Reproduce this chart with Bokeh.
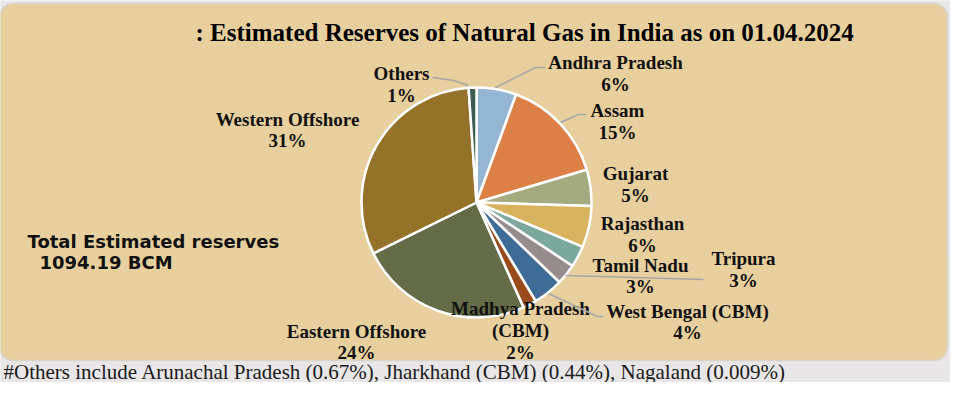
import math
from bokeh.plotting import figure
from bokeh.models import Range1d, ColumnDataSource
from bokeh.core.properties import value
from bokeh.embed import file_html
from bokeh.resources import INLINE

# ---------------- data ----------------
categories = ["Andhra Pradesh", "Assam", "Gujarat", "Rajasthan", "Tamil Nadu",
              "Tripura", "West Bengal (CBM)", "Madhya Pradesh (CBM)",
              "Eastern Offshore", "Western Offshore", "Others"]
shares = [5.6, 14.8, 5.1, 5.8, 3.0, 2.9, 4.2, 1.9, 24.4, 31.2, 1.1]
colors = ["#94b6d2", "#dd8047", "#a5ab81", "#d8b25c", "#7ba79d",
          "#968c8c", "#3f6c97", "#984a1c", "#636b47", "#94722a", "#3e5e55"]
title_text = ": Estimated Reserves of Natural Gas in India as on 01.04.2024"
total_lines = ["Total Estimated reserves", "1094.19 BCM"]
footnote = "#Others include Arunachal Pradesh (0.67%), Jharkhand (CBM) (0.44%), Nagaland (0.009%)"

# ---------------- layout ----------------
W, H = 950, 382
def px(x): return x
def py(y): return H - y

p = figure(width=W, height=H, output_backend="svg", toolbar_location=None,
           x_range=Range1d(0, W), y_range=Range1d(0, H), min_border=0)
p.axis.visible = False
p.grid.visible = False
p.outline_line_color = None
p.background_fill_color = "#e8e6e6"
p.border_fill_color = "#e8e6e6"

# tan panel
p.quad(left=[px(-1)], right=[px(947)], top=[py(3)], bottom=[py(360)],
       fill_color="#e8d09e", line_color="#d8d4cc", line_width=1.5,
       border_radius=14)

# pie
cx, cy, r = px(476), py(202), 115
total = sum(shares)
starts, ends = [], []
cum = 0.0
for s in shares:
    starts.append(math.pi / 2 - 2 * math.pi * cum / total)
    cum += s
    ends.append(math.pi / 2 - 2 * math.pi * cum / total)
src = ColumnDataSource(dict(cat=categories, start=starts, end=ends, color=colors))
p.wedge(x=cx, y=cy, radius=r, start_angle="start", end_angle="end",
        direction="clock", fill_color="color", line_color="white",
        line_width=2.5, source=src)

# labels
label_pos = {
    "Andhra Pradesh": (615, [62, 84]),
    "Assam": (617, [110, 132]),
    "Gujarat": (635, [173, 195]),
    "Rajasthan": (642, [223, 245]),
    "Tamil Nadu": (640, [265, 286]),
    "Tripura": (743, [258, 280]),
    "West Bengal (CBM)": (687, [311, 332]),
    "Madhya Pradesh (CBM)": (520, [308, 330, 352]),
    "Eastern Offshore": (356, [331, 352]),
    "Western Offshore": (287, [119, 140]),
    "Others": (401, [73, 95]),
}
tx, ty, tt = [], [], []
for cat, s in zip(categories, shares):
    x, ys = label_pos[cat]
    if cat == "Madhya Pradesh (CBM)":
        lines = ["Madhya Pradesh", "(CBM)"]
    else:
        lines = [cat]
    lines = lines + [f"{round(s)}%"]
    for yy, line in zip(ys, lines):
        tx.append(px(x)); ty.append(py(yy)); tt.append(line)
p.text(x=tx, y=ty, text=tt, text_font=value("Liberation Serif"),
       text_font_style="bold", text_font_size="19px", text_color="#111111",
       text_align="center", text_baseline="middle")

# leader lines
leaders = [
    [(495, 87), (535, 67), (545, 67)],
    [(560, 122), (578, 114), (586, 114)],
    [(432, 77), (453, 80), (468, 85)],
    [(565, 275), (703, 279)],
    [(548, 293), (597, 316), (603, 316)],
]
p.multi_line(xs=[[px(a) for a, b in L] for L in leaders],
             ys=[[py(b) for a, b in L] for L in leaders],
             line_color="#a6a6a6", line_width=1.5)

# title
p.text(x=[px(195)], y=[py(32)], text=[title_text], text_font=value("Liberation Serif"),
       text_font_style="bold", text_font_size="25px", text_color="#000000",
       text_align="left", text_baseline="middle")

# total
p.text(x=[px(27), px(39)], y=[py(241), py(262)], text=total_lines,
       text_font=value("DejaVu Sans"), text_font_style="bold",
       text_font_size="18px", text_color="#111111",
       text_align="left", text_baseline="middle")

# footnote
p.text(x=[px(3)], y=[py(371)], text=[footnote], text_font=value("Liberation Serif"),
       text_font_size="21px", text_color="#1a1a1a",
       text_align="left", text_baseline="middle")

open("out.html", "w").write(file_html(p, INLINE))
